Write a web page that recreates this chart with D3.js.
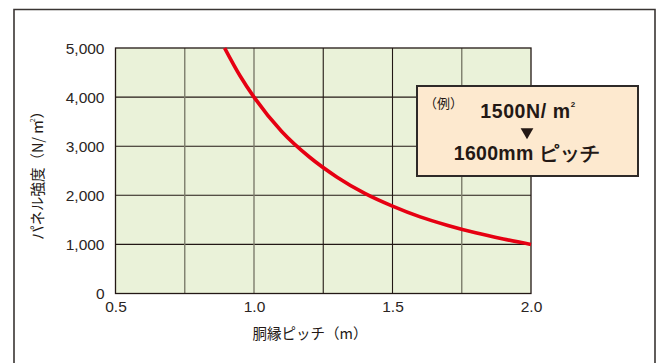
<!DOCTYPE html>
<html>
<head>
<meta charset="utf-8">
<script src="https://cdn.jsdelivr.net/npm/d3@7"></script>
<style>
  html, body { margin: 0; padding: 0; background: #fff; }
  svg { display: block; }
  .num { font-family: "Liberation Sans", Arial, sans-serif; }
  .jp { font-family: "Noto Sans CJK JP", sans-serif; }
</style>
</head>
<body>
<svg id="chart" width="662" height="363"></svg>
<script>
// Panel strength (N/m²) needed for each furring-strip pitch (m)
const pitch    = [0.894, 0.95, 1.0, 1.1, 1.2, 1.3, 1.4, 1.5, 1.6, 1.7, 1.8, 1.9, 2.0];
const strength = [5000, 4430, 4000, 3300, 2780, 2370, 2040, 1780, 1560, 1385, 1235, 1110, 1000];

const xTicks = [0.5, 1.0, 1.5, 2.0];
const xGrid  = [0.75, 1.0, 1.25, 1.5, 1.75];
const yTicks = [0, 1000, 2000, 3000, 4000, 5000];
const lightGrid = [0.75, 1.0, 1.75];

const svg = d3.select("#chart");
const ink = "#231815";

// outer frame (open at the bottom edge of the page)
svg.append("path")
  .attr("d", "M14,370 L14,9.5 L655,9.5 L655,370")
  .attr("fill", "none").attr("stroke", "#3a3533").attr("stroke-width", 1.6);

const x = d3.scaleLinear().domain([0.5, 2.0]).range([115.5, 531]);
const y = d3.scaleLinear().domain([0, 5000]).range([293.5, 48]);

// plot background
svg.append("rect")
  .attr("x", x(0.5)).attr("y", y(5000))
  .attr("width", x(2.0) - x(0.5)).attr("height", y(0) - y(5000))
  .attr("fill", "#eaf2d9");

// grid
const grid = svg.append("g");
grid.selectAll("line.h").data(yTicks.slice(1, -1)).join("line")
  .attr("x1", x(0.5)).attr("x2", x(2.0))
  .attr("y1", d => y(d)).attr("y2", d => y(d))
  .attr("stroke", ink).attr("stroke-width", 1.1);
grid.selectAll("line.v").data(xGrid).join("line")
  .attr("x1", d => x(d)).attr("x2", d => x(d))
  .attr("y1", y(0)).attr("y2", y(5000))
  .attr("stroke", d => lightGrid.includes(d) ? "#7d7d6c" : ink)
  .attr("stroke-width", d => lightGrid.includes(d) ? 1.4 : 1.1);

// plot border
svg.append("rect")
  .attr("x", x(0.5)).attr("y", y(5000))
  .attr("width", x(2.0) - x(0.5)).attr("height", y(0) - y(5000))
  .attr("fill", "none").attr("stroke", ink).attr("stroke-width", 1.3);

// axes
const yAxis = d3.axisLeft(y).tickValues(yTicks).tickSize(0).tickPadding(11)
  .tickFormat(d3.format(","));
const gy = svg.append("g").attr("transform", `translate(${x(0.5)},0)`).call(yAxis);
gy.select(".domain").remove();
gy.selectAll("text").attr("class", "num").attr("font-size", 15.5).attr("fill", "#2b2523")
  .attr("dy", "0.34em");

const xAxis = d3.axisBottom(x).tickValues(xTicks).tickSize(0).tickPadding(7)
  .tickFormat(d3.format(".1f"));
const gx = svg.append("g").attr("transform", `translate(0,${y(0)})`).call(xAxis);
gx.select(".domain").remove();
gx.selectAll("text").attr("class", "num").attr("font-size", 15.5).attr("fill", "#2b2523");

// axis titles
svg.append("text").attr("class", "jp")
  .attr("x", 310).attr("y", 339).attr("text-anchor", "middle")
  .attr("font-size", 14.5).attr("fill", ink)
  .text("胴縁ピッチ（m）");

const yTitle = svg.append("text").attr("class", "jp")
  .attr("transform", "translate(43,172) rotate(-90)")
  .attr("text-anchor", "middle").attr("font-size", 14.5).attr("fill", ink);
yTitle.append("tspan").text("パネル強度（N/ m");
yTitle.append("tspan").attr("font-size", 7).attr("dx", -2).attr("dy", -8).text("2");
yTitle.append("tspan").attr("dy", 8).text("）");

// curve
const line = d3.line().x((d, i) => x(pitch[i])).y(d => y(d)).curve(d3.curveMonotoneX);
svg.append("path")
  .attr("d", line(strength))
  .attr("fill", "none").attr("stroke", "#e60012").attr("stroke-width", 3.6)
  .attr("stroke-linecap", "butt");

// example callout
const box = svg.append("g");
box.append("rect")
  .attr("x", 417).attr("y", 86).attr("width", 221).attr("height", 90)
  .attr("fill", "#fde9cf").attr("stroke", "#2e2a28").attr("stroke-width", 2);
box.append("text").attr("class", "jp")
  .attr("x", 424).attr("y", 108).attr("font-size", 13).attr("fill", ink)
  .text("（例）");
const t1 = box.append("text").attr("class", "num")
  .attr("x", 528).attr("y", 118).attr("text-anchor", "middle")
  .attr("font-size", 19.5).attr("font-weight", "bold").attr("fill", ink)
  .attr("letter-spacing", 0.6);
t1.append("tspan").text("1500N/ m");
t1.append("tspan").attr("font-size", 8).attr("dy", -11).text("2");
box.append("path")
  .attr("d", d3.symbol(d3.symbolTriangle, 70)())
  .attr("transform", "translate(527,132) rotate(180)")
  .attr("fill", ink);
box.append("text").attr("class", "num")
  .attr("x", 527).attr("y", 160).attr("text-anchor", "middle")
  .attr("font-size", 19.5).attr("font-weight", "bold").attr("fill", ink)
  .attr("letter-spacing", 0.3)
  .text("1600mm ピッチ");
</script>
</body>
</html>
